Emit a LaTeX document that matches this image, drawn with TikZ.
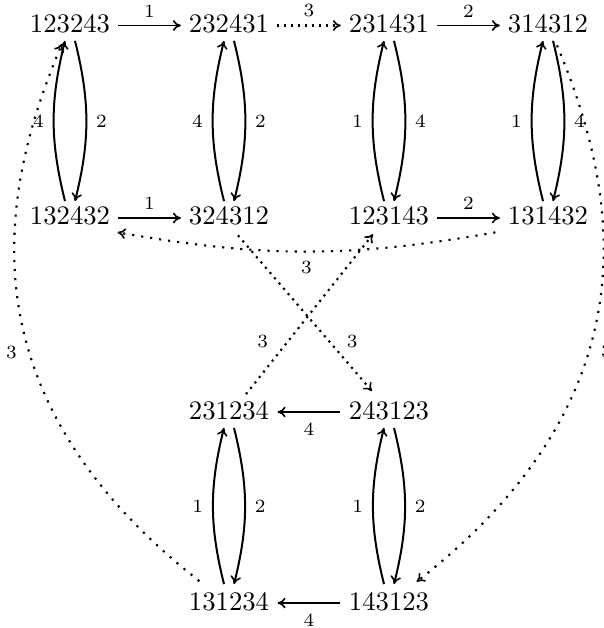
\documentclass[tikz,border=0pt]{standalone}
\usetikzlibrary{arrows.meta}
\begin{document}
\begin{tikzpicture}[x=0.3743pt,y=-0.3743pt,
  st/.style={inner sep=0pt},
  lab/.style={font=\scriptsize, inner sep=0pt},
  tip/.style={-{To[length=3pt,width=4pt,line width=0.6pt]}},
  ar/.style={line width=0.6pt, tip},
  thk/.style={line width=1.1pt, -{To[length=3pt,width=4pt,line width=0.6pt]}},
  cv/.style={line width=0.75pt, tip},
  dar/.style={line width=0.8pt, dash pattern=on 0.8pt off 2.6pt, tip},
  dard/.style={line width=0.8pt, dash pattern=on 0.8pt off 1.8pt, tip}]
\useasboundingbox (0,0) rectangle (604,628);
% nodes
\node[st] (a1) at (70,24) {123243};
\node[st] (a2) at (229,24) {232431};
\node[st] (a3) at (389,24) {231431};
\node[st] (a4) at (548,24) {314312};
\node[st] (b1) at (70,216) {132432};
\node[st] (b2) at (229,216) {324312};
\node[st] (b3) at (389,216) {123143};
\node[st] (b4) at (548,216) {131432};
\node[st] (c1) at (229,411) {231234};
\node[st] (c2) at (389,411) {243123};
\node[st] (d1) at (229,602) {131234};
\node[st] (d2) at (389,602) {143123};
% horizontal arrows
\draw[ar] ([shift={(7.5,1.5)}]a1.east) -- node[lab,above=2.8pt]{1} ([shift={(-7.5,1.5)}]a2.west);
\draw[dard] ([shift={(7.5,1.5)}]a2.east) -- node[lab,above=2.8pt]{3} ([shift={(-7.5,1.5)}]a3.west);
\draw[ar] ([shift={(7.5,1.5)}]a3.east) -- node[lab,above=2.8pt]{2} ([shift={(-7.5,1.5)}]a4.west);
\draw[thk] ([shift={(7.5,2)}]b1.east) -- node[lab,above=2.8pt]{1} ([shift={(-7.5,2)}]b2.west);
\draw[thk] ([shift={(7.5,2)}]b3.east) -- node[lab,above=2.8pt]{2} ([shift={(-7.5,2)}]b4.west);
\draw[ar] ([shift={(-8,1)}]c2.west) -- node[lab,below=3.7pt]{4} ([shift={(8,1)}]c1.east);
\draw[thk] ([shift={(-8,1)}]d2.west) -- node[lab,below=3.7pt]{4} ([shift={(8,1)}]d1.east);
% vertical curved pairs
\draw[cv] ([shift={(-5,-5)}]b1.north) to[bend left=14] node[lab,left=3.3pt]{4} ([shift={(-5,7)}]a1.south);
\draw[cv] ([shift={(5,7)}]a1.south) to[bend left=14] node[lab,right=3.3pt]{2} ([shift={(5,-5)}]b1.north);
\draw[cv] ([shift={(-5,-5)}]b2.north) to[bend left=14] node[lab,left=3.3pt]{4} ([shift={(-5,7)}]a2.south);
\draw[cv] ([shift={(5,7)}]a2.south) to[bend left=14] node[lab,right=3.3pt]{2} ([shift={(5,-5)}]b2.north);
\draw[cv] ([shift={(-5,-5)}]b3.north) to[bend left=14] node[lab,left=3.3pt]{1} ([shift={(-5,7)}]a3.south);
\draw[cv] ([shift={(5,7)}]a3.south) to[bend left=14] node[lab,right=3.3pt]{4} ([shift={(5,-5)}]b3.north);
\draw[cv] ([shift={(-5,-5)}]b4.north) to[bend left=14] node[lab,left=3.3pt]{1} ([shift={(-5,7)}]a4.south);
\draw[cv] ([shift={(5,7)}]a4.south) to[bend left=14] node[lab,right=3.3pt]{4} ([shift={(5,-5)}]b4.north);
\draw[cv] ([shift={(-5,-8)}]d1.north) to[bend left=14] node[lab,left=3.3pt]{1} ([shift={(-5,7)}]c1.south);
\draw[cv] ([shift={(5,7)}]c1.south) to[bend left=14] node[lab,right=3.3pt]{2} ([shift={(5,-8)}]d1.north);
\draw[cv] ([shift={(-5,-8)}]d2.north) to[bend left=14] node[lab,left=3.3pt]{1} ([shift={(-5,7)}]c2.south);
\draw[cv] ([shift={(5,7)}]c2.south) to[bend left=14] node[lab,right=3.3pt]{2} ([shift={(5,-8)}]d2.north);
% dotted connectors
\draw[dar] ([shift={(-12,6.5)}]b4.south west) to[bend left=10] node[lab,below=3pt]{3} ([shift={(7,6.5)}]b1.south east);
\draw[dard] ([shift={(9,9.5)}]b2.south) -- node[lab,pos=0.68,xshift=8.6pt]{3} ([shift={(-17,-10)}]c2.north);
\draw[dard] ([shift={(17,-7)}]c1.north) -- node[lab,pos=0.33,xshift=-9.4pt]{3} ([shift={(-16,8.4)}]b3.south);
\draw[dar] ([shift={(11,-11)}]d1.north west) .. controls +(-236,-185) and +(-65,153) .. node[lab,pos=0.4,xshift=-7.1pt,yshift=1.5pt]{3} ([shift={(-8,10)}]a1.south);
\draw[dar] ([shift={(9,11.5)}]a4.south) .. controls +(63,150) and +(239,-186) .. node[lab,pos=0.6,xshift=7.1pt,yshift=1.5pt]{3} ([shift={(-13,-10.4)}]d2.north east);
\end{tikzpicture}
\end{document}
